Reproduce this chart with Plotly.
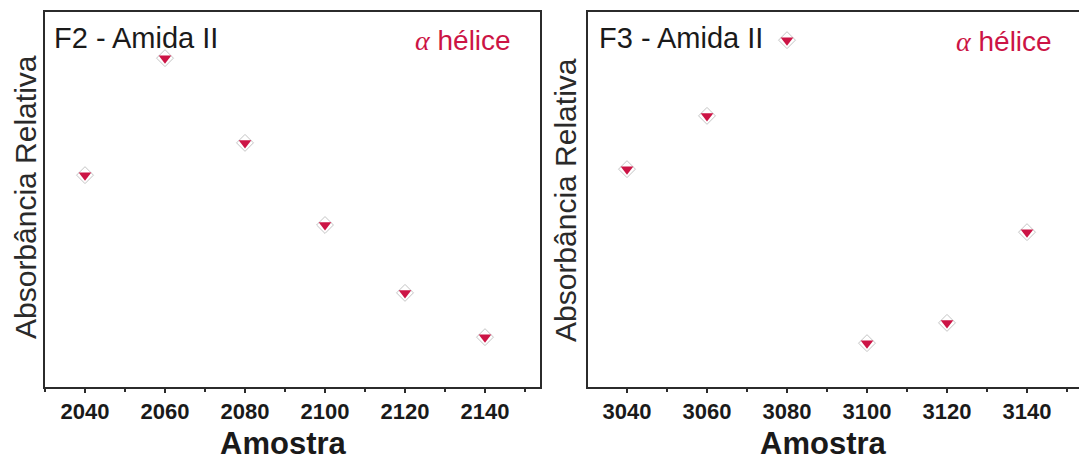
import plotly.graph_objects as go

# Data
f2_amostra = [2040, 2060, 2080, 2100, 2120, 2140]
f2_absorb = [0.565, 0.877, 0.651, 0.432, 0.251, 0.133]
f3_amostra = [3040, 3060, 3080, 3100, 3120, 3140]
f3_absorb = [0.581, 0.723, 0.925, 0.117, 0.171, 0.413]
f2_ticks = [2040, 2060, 2080, 2100, 2120, 2140]
f3_ticks = [3040, 3060, 3080, 3100, 3120, 3140]

RED = "#cc1445"
AX = "#2b2b2b"
FONT = "Liberation Sans, Arial, sans-serif"

fig = go.Figure()

for xs, ys, xa, ya in [(f2_amostra, f2_absorb, "x", "y"), (f3_amostra, f3_absorb, "x2", "y2")]:
    fig.add_trace(go.Scatter(
        x=xs, y=ys, xaxis=xa, yaxis=ya, mode="markers", showlegend=False,
        marker=dict(symbol="diamond", size=13, color="white",
                    line=dict(color="#c4c4c4", width=1)),
        hoverinfo="skip"))
    fig.add_trace(go.Scatter(
        x=xs, y=ys, xaxis=xa, yaxis=ya, mode="markers", showlegend=False,
        marker=dict(symbol="triangle-down", size=11, color=RED,
                    line=dict(width=0))))

W, H = 1079, 462
ML, MR, MT, MB = 45, 0, 12, 75
PW = W - ML - MR
PH = H - MT - MB

def px_x(p):
    return (p - ML) / PW

def px_y(p):
    return 1 - (p - MT) / PH

common_x = dict(showline=True, linecolor=AX, linewidth=2, mirror=True,
                ticks="outside", ticklen=4, tickwidth=2, tickcolor=AX,
                showgrid=False, zeroline=False,
                tickfont=dict(family=FONT, size=22, color="#1a1a1a", weight="bold"),
                minor=dict(ticks="outside", ticklen=3, tickwidth=2, tickcolor=AX, dtick=10))
common_y = dict(showline=True, linecolor=AX, linewidth=2,
                showticklabels=False, ticks="", showgrid=False, zeroline=False,
                range=[0, 1])

fig.update_layout(
    width=W, height=H,
    margin=dict(l=ML, r=MR, t=MT, b=MB),
    paper_bgcolor="white", plot_bgcolor="white",
    xaxis=dict(domain=[0, px_x(540)], range=[2030, 2153.75],
               tickvals=f2_ticks, ticktext=[str(t) for t in f2_ticks],
               anchor="y", **common_x),
    yaxis=dict(domain=[0, 1], anchor="x", mirror=True, **common_y),
    xaxis2=dict(domain=[px_x(588), 1], range=[3030.25, 3153],
                tickvals=f3_ticks, ticktext=[str(t) for t in f3_ticks],
                anchor="y2", **common_x),
    yaxis2=dict(domain=[0, 1], anchor="x2", mirror=False, **common_y),
)

ann = []
# axis titles
for cx in (283, 823):
    ann.append(dict(text="<b>Amostra</b>", x=px_x(cx), y=px_y(443), xref="paper", yref="paper",
                    showarrow=False, font=dict(family=FONT, size=31, color="#1a1a1a"),
                    xanchor="center", yanchor="middle"))
for cx, cy in ((25, 197), (565, 200)):
    ann.append(dict(text="Absorbância Relativa", x=px_x(cx), y=px_y(cy), xref="paper", yref="paper",
                    showarrow=False, textangle=-90, font=dict(family=FONT, size=30, color="#2a2a2a"),
                    xanchor="center", yanchor="middle"))
# panel labels
ann.append(dict(text="F2 - Amida II", x=px_x(52), y=px_y(38), xref="paper", yref="paper",
                showarrow=False, font=dict(family=FONT, size=29, color="#1a1a1a"),
                xanchor="left", yanchor="middle"))
ann.append(dict(text="F3 - Amida II", x=px_x(597), y=px_y(38), xref="paper", yref="paper",
                showarrow=False, font=dict(family=FONT, size=29, color="#1a1a1a"),
                xanchor="left", yanchor="middle"))
helice = "<span style='font-family:Liberation Serif, serif'><i>α</i></span> hélice"
ann.append(dict(text=helice, x=px_x(513), y=px_y(40), xref="paper", yref="paper",
                showarrow=False, font=dict(family=FONT, size=28, color=RED),
                xanchor="right", yanchor="middle"))
ann.append(dict(text=helice, x=px_x(1054), y=px_y(42), xref="paper", yref="paper",
                showarrow=False, font=dict(family=FONT, size=28, color=RED),
                xanchor="right", yanchor="middle"))
fig.update_layout(annotations=ann)

fig.write_html("out.html")
